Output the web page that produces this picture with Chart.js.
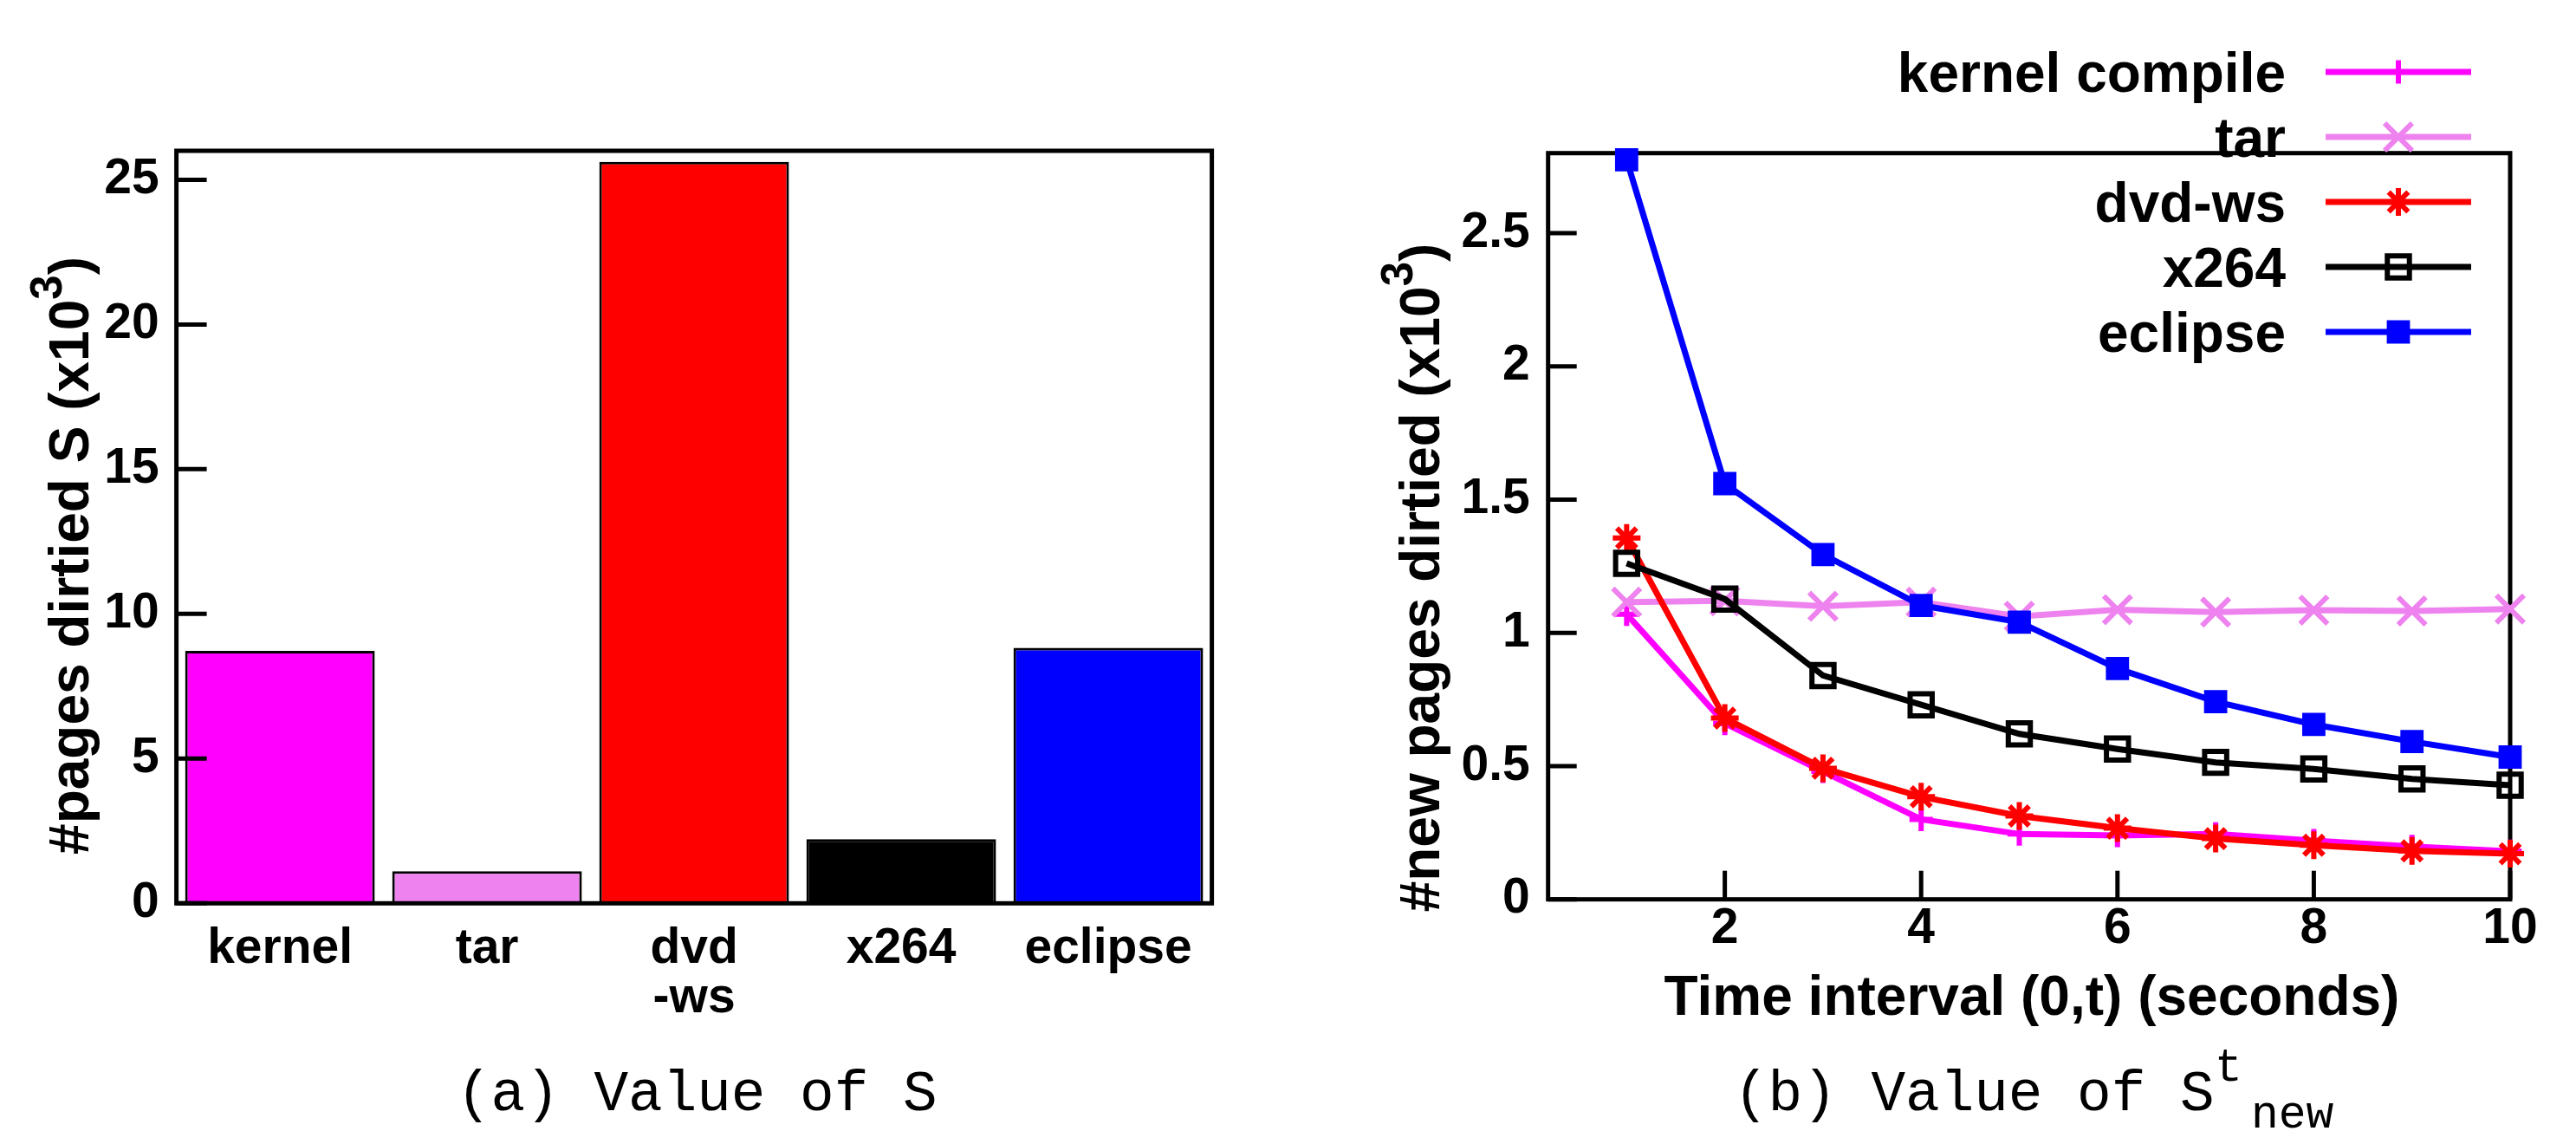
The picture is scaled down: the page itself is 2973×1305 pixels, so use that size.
<!DOCTYPE html>
<html>
<head>
<meta charset="utf-8">
<script src="https://cdn.jsdelivr.net/npm/chart.js@4.4.1/dist/chart.umd.min.js"></script>
<style>
  html, body { margin: 0; padding: 0; background: #fff; }
  body { width: 2973px; height: 1305px; position: relative; overflow: hidden; }
  canvas { position: absolute; top: 0; }
  #cv-s   { left: 0; }
  #cv-new { left: 1480px; }
  .caption {
    position: absolute;
    font-family: 'Liberation Mono', 'Courier New', monospace;
    font-size: 66px; line-height: 66px;
    white-space: pre; color: #000;
  }
  .caption .sup, .caption .sub { position: absolute; font-size: 53px; line-height: 53px; }
</style>
</head>
<body>
<canvas id="cv-s" width="1480" height="1305"></canvas>
<canvas id="cv-new" width="1493" height="1305"></canvas>
<div class="caption" style="left:527px; top:1231px">(a) Value of S</div>
<div class="caption" style="left:2001px; top:1231px">(b) Value of S<span class="sup" style="left:555px; top:-24px">t</span><span class="sub" style="left:597px; top:30px">new</span></div>

<script>
const FONT = "'Liberation Sans', Arial, Helvetica, sans-serif";

// (a) 벤치마크별 dirty page 수 S (x10^3)
const benchLabels  = ['kernel', 'tar', ['dvd', '-ws'], 'x264', 'eclipse'];
const pagesDirtied = [8.72, 1.11, 25.62, 2.22, 8.83];
const yTicksS      = [0, 5, 10, 15, 20, 25];

// (b) 구간 (0,t) 동안 새로 dirty 된 page 수 (x10^3)
const intervals  = [1, 2, 3, 4, 5, 6, 7, 8, 9, 10];
const kernelNew  = [1.07, 0.66, 0.48, 0.30, 0.245, 0.24, 0.245, 0.22, 0.198, 0.18];
const tarNew     = [1.115, 1.12, 1.10, 1.115, 1.062, 1.087, 1.078, 1.085, 1.082, 1.089];
const dvdNew     = [1.356, 0.68, 0.492, 0.385, 0.313, 0.267, 0.228, 0.203, 0.182, 0.171];
const x264New    = [1.261, 1.127, 0.84, 0.73, 0.621, 0.564, 0.514, 0.489, 0.452, 0.428];
const eclipseNew = [2.775, 1.56, 1.294, 1.103, 1.04, 0.866, 0.742, 0.656, 0.592, 0.534];
const xTicksNew  = [2, 4, 6, 8, 10];
const yTicksNew  = [0, 0.5, 1, 1.5, 2, 2.5];

const MAGENTA = '#ff00ff';
const VIOLET  = '#ee82ee';
const RED     = '#ff0000';
const BLACK   = '#000000';
const BLUE    = '#0000ff';

Chart.defaults.font.family = FONT;
Chart.defaults.color = '#000';

// gnuplot 스타일 테두리 상자
const framePlugin = {
  id: 'frame',
  beforeDatasetsDraw(chart, args, opts) { if (!opts.front) drawFrame(chart, opts); },
  afterDatasetsDraw(chart, args, opts)  { if (opts.front) drawFrame(chart, opts); },
};
function drawFrame(chart, opts) {
  const { ctx, chartArea: a } = chart;
  ctx.save();
  ctx.strokeStyle = '#000';
  ctx.lineWidth = opts.width || 5;
  ctx.strokeRect(a.left, a.top, a.right - a.left, a.bottom - a.top);
  ctx.restore();
}

// 안쪽으로 들어가는 눈금
const inwardTicks = {
  id: 'inwardTicks',
  afterDatasetsDraw(chart, args, opts) {
    const { ctx, chartArea: a } = chart;
    ctx.save();
    ctx.strokeStyle = '#000';
    ctx.lineWidth = opts.width || 5;
    (opts.axes || []).forEach(({ id, length }) => {
      const s = chart.scales[id];
      s.ticks.forEach((t) => {
        const p = s.getPixelForValue(t.value);
        ctx.beginPath();
        if (s.isHorizontal()) {
          ctx.moveTo(p, a.bottom);
          ctx.lineTo(p, a.bottom - length);
        } else {
          ctx.moveTo(a.left, p);
          ctx.lineTo(a.left + length, p);
        }
        ctx.stroke();
      });
    });
    ctx.restore();
  },
};

// 위첨자가 들어간 축 제목
const richTitles = {
  id: 'richTitles',
  afterDraw(chart, args, opts) {
    const { ctx } = chart;
    const base = `bold 64px ${FONT}`;
    const sup  = `bold 51px ${FONT}`;
    (opts.items || []).forEach((item) => {
      const parts = item.parts.map(([t, isSup]) => {
        ctx.font = isSup ? sup : base;
        return { t, isSup, w: ctx.measureText(t).width };
      });
      const total = parts.reduce((acc, p) => acc + p.w, 0);
      ctx.save();
      ctx.translate(item.x, item.y);
      if (item.rotate) ctx.rotate(-Math.PI / 2);
      ctx.fillStyle = '#000';
      ctx.textAlign = 'left';
      ctx.textBaseline = 'alphabetic';
      let cx = -total / 2;
      parts.forEach((p) => {
        ctx.font = p.isSup ? sup : base;
        ctx.fillText(p.t, cx, p.isSup ? -31 : 0);
        cx += p.w;
      });
      ctx.restore();
    });
  },
};

// 오른쪽 위 범례: 글자 왼쪽, 선+마커 오른쪽
const sideLegend = {
  id: 'sideLegend',
  afterDraw(chart, args, opts) {
    if (!opts.rows) return;
    const { ctx } = chart;
    chart.data.datasets.forEach((ds, i) => {
      const y = opts.rows[i];
      ctx.save();
      ctx.fillStyle = '#000';
      ctx.font = `bold 64px ${FONT}`;
      ctx.textAlign = 'right';
      ctx.textBaseline = 'alphabetic';
      ctx.fillText(ds.label, opts.textRight, y + 23);

      ctx.strokeStyle = ds.borderColor;
      ctx.lineWidth = ds.borderWidth;
      ctx.beginPath();
      ctx.moveTo(opts.lineFrom, y);
      ctx.lineTo(opts.lineTo, y);
      ctx.stroke();

      ctx.fillStyle = ds.pointBackgroundColor;
      ctx.strokeStyle = ds.pointBorderColor;
      ctx.lineWidth = ds.pointBorderWidth;
      Chart.helpers.drawPoint(ctx, {
        pointStyle: ds.pointStyle,
        radius: ds.pointRadius,
        rotation: 0,
        borderWidth: ds.pointBorderWidth,
      }, opts.markX, y);
      ctx.restore();
    });
  },
};

const tickFont = { size: 57, weight: 'bold', lineHeight: 1 };

// ── (a) 막대 그래프 ──
new Chart(document.getElementById('cv-s'), {
  type: 'bar',
  data: {
    labels: benchLabels,
    datasets: [{
      data:               pagesDirtied,
      backgroundColor:    [MAGENTA, VIOLET, RED, BLACK, BLUE],
      borderColor:        '#000',
      borderWidth:        3,
      barPercentage:      0.916,
      categoryPercentage: 1,
    }],
  },
  options: {
    responsive: false,
    devicePixelRatio: 1,
    animation: false,
    layout: { padding: { top: 174, right: 81.4, left: 0, bottom: 0 } },
    plugins: {
      legend:  { display: false },
      tooltip: { enabled: false },
      frame:   { width: 5, front: true },
      inwardTicks: { width: 5, axes: [{ id: 'y', length: 35 }] },
      richTitles: {
        items: [{ x: 101.6, y: 641, rotate: true,
          parts: [['#pages dirtied S (x10', false], ['3', true], [')', false]] }],
      },
    },
    scales: {
      x: {
        grid:   { display: false, drawTicks: false },
        border: { display: false },
        ticks:  { font: tickFont, padding: 24, maxRotation: 0, autoSkip: false },
        afterFit: (s) => { s.height = 262.7; },
      },
      y: {
        min: 0,
        max: 26,
        grid:   { display: false, drawTicks: false },
        border: { display: false },
        ticks:  { font: tickFont, padding: 20 },
        afterBuildTicks: (s) => { s.ticks = yTicksS.map((v) => ({ value: v })); },
        afterFit: (s) => { s.width = 203.6; },
      },
    },
  },
  plugins: [framePlugin, inwardTicks, richTitles],
});

// ── (b) 꺾은선 그래프 ──
function toPoints(vals) {
  return intervals.map((t, i) => ({ x: t, y: vals[i] }));
}

const lineSeries = [
  { label: 'kernel compile', vals: kernelNew,  color: MAGENTA, style: 'cross',    r: 13.5, fill: MAGENTA },
  { label: 'tar',            vals: tarNew,     color: VIOLET,  style: 'crossRot', r: 22.5, fill: VIOLET },
  { label: 'dvd-ws',         vals: dvdNew,     color: RED,     style: 'star',     r: 16,   fill: RED },
  { label: 'x264',           vals: x264New,    color: BLACK,   style: 'rect',     r: 18,   fill: 'rgba(0,0,0,0)' },
  { label: 'eclipse',        vals: eclipseNew, color: BLUE,    style: 'rect',     r: 14.7, fill: BLUE },
];

new Chart(document.getElementById('cv-new'), {
  type: 'line',
  data: {
    datasets: lineSeries.map((s, i) => ({
      label:                s.label,
      data:                 toPoints(s.vals),
      borderColor:          s.color,
      borderWidth:          7,
      pointStyle:           s.style,
      pointRadius:          s.r,
      pointBorderColor:     s.color,
      pointBackgroundColor: s.fill,
      pointBorderWidth:     6,
      tension:              0,
      clip:                 false,
      order:                lineSeries.length - i,
    })),
  },
  options: {
    responsive: false,
    devicePixelRatio: 1,
    animation: false,
    layout: { padding: { top: 176.7, right: 76, left: 0, bottom: 0 } },
    plugins: {
      legend:  { display: false },
      tooltip: { enabled: false },
      frame:   { width: 5, front: false },
      inwardTicks: { width: 5, axes: [{ id: 'x', length: 33 }, { id: 'y', length: 33 }] },
      richTitles: {
        items: [
          { x: 180.5, y: 666.5, rotate: true,
            parts: [['#new pages dirtied (x10', false], ['3', true], [')', false]] },
          { x: 865, y: 1171, rotate: false,
            parts: [['Time interval (0,t) (seconds)', false]] },
        ],
      },
      sideLegend: { rows: [83, 158, 233, 308, 383], textRight: 1158, lineFrom: 1204, lineTo: 1372, markX: 1288 },
    },
    scales: {
      x: {
        type: 'linear',
        min: 0.2,
        max: 10,
        grid:   { display: false, drawTicks: false },
        border: { display: false },
        ticks:  { font: tickFont, padding: 6, maxRotation: 0 },
        afterBuildTicks: (s) => { s.ticks = xTicksNew.map((v) => ({ value: v })); },
        afterFit: (s) => { s.height = 267.3; },
      },
      y: {
        min: 0,
        max: 2.8,
        grid:   { display: false, drawTicks: false },
        border: { display: false },
        ticks:  { font: tickFont, padding: 21, callback: (v) => String(v) },
        afterBuildTicks: (s) => { s.ticks = yTicksNew.map((v) => ({ value: v })); },
        afterFit: (s) => { s.width = 306.7; },
      },
    },
  },
  plugins: [framePlugin, inwardTicks, richTitles, sideLegend],
});
</script>
</body>
</html>
